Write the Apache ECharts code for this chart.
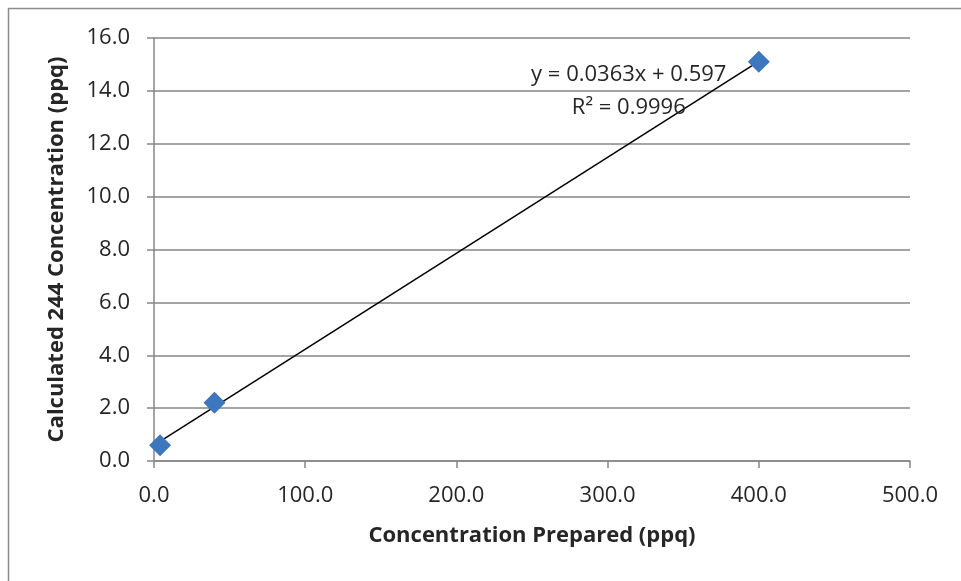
<!DOCTYPE html>
<html>
<head>
<meta charset="utf-8">
<script src="https://cdn.jsdelivr.net/npm/echarts@6/dist/echarts.min.js"></script>
<style>
  html, body { margin: 0; padding: 0; background: #fff; }
  #chart { width: 961px; height: 581px; }
</style>
</head>
<body>
<div id="chart"></div>
<script>
// measured points
const preparedX = [4, 40, 400];
const calculatedY = [0.6, 2.2, 15.1];

// linear fit as printed on the chart
const slope = 0.0363;
const intercept = 0.597;
const rSquared = '0.9996';
const trendX = [4, 400];

const FONT = '"Open Sans", "Liberation Sans", sans-serif';

const points = preparedX.map((x, i) => [x, calculatedY[i]]);
const trend = trendX.map(x => [x, slope * x + intercept]);

const chart = echarts.init(document.getElementById('chart'));

chart.setOption({
  animation: false,
  backgroundColor: '#fff',
  graphic: [{
    type: 'rect',
    shape: { x: 8.5, y: 8.5, width: 1000, height: 700 },
    style: { fill: 'none', stroke: '#8c8c8c', lineWidth: 1.5 },
    silent: true
  }],
  grid: { left: 154, right: 51, top: 38, bottom: 120 },
  xAxis: {
    type: 'value',
    min: 0,
    max: 500,
    interval: 100,
    name: 'Concentration Prepared (ppq)',
    nameLocation: 'middle',
    nameGap: 64,
    nameTextStyle: { fontFamily: FONT, fontSize: 22, fontWeight: 'bold', color: '#262626' },
    axisLine: { lineStyle: { color: '#868686', width: 1.5 } },
    axisTick: { show: true, length: 7, lineStyle: { color: '#868686', width: 1.5 } },
    axisLabel: {
      fontFamily: FONT, fontSize: 22, color: '#262626', margin: 24,
      formatter: v => v.toFixed(1)
    },
    splitLine: { show: false }
  },
  yAxis: {
    type: 'value',
    min: 0,
    max: 16,
    interval: 2,
    name: 'Calculated 244 Concentration (ppq)',
    nameLocation: 'middle',
    nameGap: 86,
    nameTextStyle: { fontFamily: FONT, fontSize: 22, fontWeight: 'bold', color: '#262626' },
    axisLine: { show: true, lineStyle: { color: '#868686', width: 1.5 } },
    axisTick: { show: true, length: 7, lineStyle: { color: '#868686', width: 1.5 } },
    axisLabel: {
      fontFamily: FONT, fontSize: 22, color: '#262626', margin: 24,
      formatter: v => v.toFixed(1)
    },
    splitLine: { show: true, lineStyle: { color: '#868686', width: 1.5 } }
  },
  series: [{
    name: 'trend',
    type: 'line',
    data: trend,
    showSymbol: false,
    symbol: 'none',
    lineStyle: { color: '#000', width: 1.5 },
    z: 3,
    markPoint: {
      symbol: 'circle',
      symbolSize: 0,
      data: [{ coord: [314, 14.0] }],
      label: {
        show: true,
        position: 'inside',
        fontFamily: FONT,
        fontSize: 22,
        color: '#262626',
        lineHeight: 33,
        align: 'center',
        formatter: 'y = ' + slope + 'x + ' + intercept + '\n' + 'R² = ' + rSquared
      }
    }
  }, {
    name: 'points',
    type: 'scatter',
    data: points,
    symbol: 'diamond',
    symbolSize: [22, 22],
    itemStyle: { color: '#3d77bd', opacity: 1 },
    z: 4
  }]
});
</script>
</body>
</html>
